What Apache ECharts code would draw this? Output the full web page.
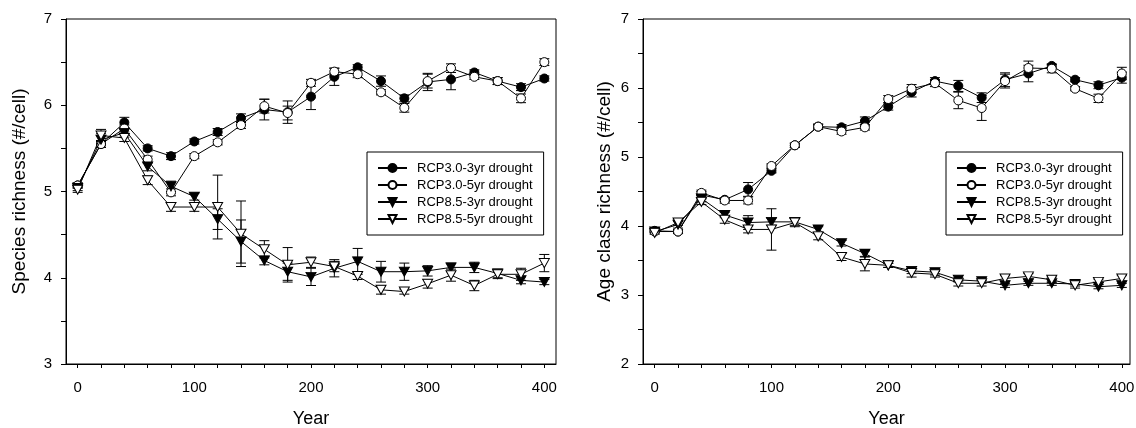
<!DOCTYPE html>
<html>
<head>
<meta charset="utf-8">
<script src="https://cdn.jsdelivr.net/npm/echarts@6/dist/echarts.min.js"></script>
<style>
html,body{margin:0;padding:0;background:#fff;}
#chart{width:1136px;height:428px;}
</style>
</head>
<body>
<div id="chart"></div>
<script>
const years = [0,20,40,60,80,100,120,140,160,180,200,220,240,260,280,300,320,340,360,380,400];
const seriesNames = ['RCP3.0-3yr drought','RCP3.0-5yr drought','RCP8.5-3yr drought','RCP8.5-5yr drought'];
const xTicks = [0,20,40,60,80,100,120,140,160,180,200,220,240,260,280,300,320,340,360,380,400];
const xLabels = [0,100,200,300,400];
const leftYTicks = [3,3.5,4,4.5,5,5.5,6,6.5,7];
const leftYLabels = [3,4,5,6,7];
const rightYTicks = [2,2.5,3,3.5,4,4.5,5,5.5,6,6.5,7];
const rightYLabels = [2,3,4,5,6,7];

// Species richness (#/cell)
const spA = [5.07,5.55,5.80,5.50,5.41,5.58,5.69,5.85,5.95,5.92,6.10,6.33,6.44,6.28,6.08,6.27,6.30,6.38,6.28,6.21,6.31];
const spB = [5.07,5.55,5.73,5.37,4.99,5.41,5.57,5.77,5.99,5.91,6.26,6.39,6.36,6.15,5.97,6.28,6.43,6.33,6.28,6.08,6.50];
const spC = [5.04,5.60,5.68,5.29,5.06,4.94,4.68,4.42,4.20,4.07,4.01,4.11,4.19,4.07,4.07,4.08,4.12,4.12,4.05,3.97,3.95];
const spD = [5.02,5.65,5.62,5.13,4.82,4.82,4.82,4.51,4.33,4.15,4.18,4.13,4.02,3.86,3.84,3.93,4.03,3.91,4.04,4.04,4.17];
const spAerr = [0.03,0.04,0.06,0.03,0.04,0.03,0.04,0.05,0.12,0.13,0.15,0.10,0.03,0.06,0.04,0.10,0.12,0.03,0.04,0.04,0.03];
const spBerr = [0.03,0.04,0.04,0.04,0.04,0.03,0.03,0.04,0.08,0.08,0.04,0.04,0.04,0.03,0.05,0.08,0.05,0.03,0.04,0.05,0.04];
const spCerr = [0.03,0.07,0.05,0.05,0.06,0.04,0.12,0.25,0.05,0.10,0.10,0.10,0.15,0.12,0.10,0.06,0.05,0.06,0.05,0.04,0.03];
const spDerr = [0.03,0.07,0.04,0.05,0.05,0.05,0.37,0.38,0.10,0.20,0.06,0.06,0.04,0.05,0.03,0.05,0.07,0.06,0.05,0.07,0.10];

// Age class richness (#/cell)
const agA = [3.93,3.92,4.45,4.38,4.53,4.80,5.17,5.44,5.43,5.52,5.73,5.94,6.10,6.03,5.86,6.12,6.21,6.32,6.12,6.04,6.15];
const agB = [3.92,3.92,4.48,4.37,4.37,4.87,5.17,5.44,5.37,5.43,5.84,5.99,6.07,5.82,5.71,6.10,6.29,6.28,5.99,5.85,6.21];
const agC = [3.92,4.02,4.40,4.16,4.05,4.06,4.06,3.95,3.75,3.60,3.43,3.35,3.33,3.22,3.20,3.14,3.17,3.17,3.16,3.12,3.14];
const agD = [3.90,4.05,4.35,4.09,3.95,3.95,4.05,3.85,3.55,3.45,3.43,3.32,3.30,3.17,3.17,3.24,3.27,3.22,3.14,3.19,3.24];
const agAerr = [0.02,0.03,0.05,0.03,0.10,0.03,0.03,0.04,0.04,0.06,0.05,0.07,0.05,0.08,0.07,0.10,0.12,0.03,0.03,0.05,0.08];
const agBerr = [0.02,0.03,0.04,0.04,0.05,0.03,0.03,0.03,0.04,0.04,0.05,0.06,0.05,0.12,0.18,0.10,0.10,0.06,0.03,0.06,0.09];
const agCerr = [0.02,0.05,0.05,0.04,0.10,0.05,0.05,0.04,0.04,0.04,0.03,0.04,0.04,0.03,0.03,0.03,0.03,0.03,0.03,0.03,0.03];
const agDerr = [0.02,0.04,0.04,0.05,0.05,0.30,0.06,0.05,0.05,0.10,0.03,0.06,0.04,0.04,0.04,0.04,0.04,0.04,0.04,0.04,0.04];

const FONT = 'Liberation Sans, Arial, sans-serif';
const TRI = 'path://M0,0L10,0L5,9Z';
const markerStyles = [
  {symbol:'circle', symbolSize:9, itemStyle:{color:'#000', borderColor:'#000', borderWidth:1}},
  {symbol:'circle', symbolSize:9, itemStyle:{color:'#fff', borderColor:'#000', borderWidth:1}},
  {symbol:TRI, symbolSize:[10,9], itemStyle:{color:'#000', borderColor:'#000', borderWidth:1}},
  {symbol:TRI, symbolSize:[10,9], itemStyle:{color:'#fff', borderColor:'#000', borderWidth:1}}
];

function pairs(vals){ return years.map((y,i)=>[y, vals[i]]); }
function triples(vals, errs){ return years.map((y,i)=>[y, vals[i], errs[i]]); }

function errRender(params, api){
  const x = api.value(0), y = api.value(1), e = api.value(2);
  const t = api.coord([x, y + e]);
  const b = api.coord([x, y - e]);
  const hw = 5;
  const st = {stroke:'#000', lineWidth:1};
  return {type:'group', children:[
    {type:'line', shape:{x1:t[0], y1:t[1], x2:b[0], y2:b[1]}, style:st},
    {type:'line', shape:{x1:t[0]-hw, y1:t[1], x2:t[0]+hw, y2:t[1]}, style:st},
    {type:'line', shape:{x1:b[0]-hw, y1:b[1], x2:b[0]+hw, y2:b[1]}, style:st}
  ]};
}

function makeSeries(idx, valsList, errList){
  const out = [];
  valsList.forEach((vals, k)=>{
    out.push({
      type:'custom', name:seriesNames[k]+' err', xAxisIndex:idx, yAxisIndex:idx,
      renderItem:errRender, data:triples(vals, errList[k]), z:1, silent:true,
      encode:{x:0, y:1}
    });
  });
  valsList.forEach((vals, k)=>{
    out.push(Object.assign({
      type:'line', name:seriesNames[k], xAxisIndex:idx, yAxisIndex:idx,
      data:pairs(vals), z:3 + k,
      lineStyle:{color:'#000', width:1},
      showAllSymbol:true
    }, markerStyles[k]));
  });
  return out;
}

function xAxis(gridIndex){
  return {
    type:'value', gridIndex, min:-10, max:410,
    name:'Year', nameLocation:'middle', nameGap:46,
    nameTextStyle:{color:'#000', fontSize:18, fontFamily:FONT},
    axisLine:{show:true, onZero:false, lineStyle:{color:'#000', width:1}},
    axisTick:{show:true, length:4, customValues:xTicks, lineStyle:{color:'#000'}},
    axisLabel:{customValues:xLabels, color:'#000', fontSize:15, fontFamily:FONT, margin:16},
    splitLine:{show:false}
  };
}
function yAxis(gridIndex, min, max, ticks, labels, name, gap){
  return {
    type:'value', gridIndex, min, max,
    name, nameLocation:'middle', nameGap:gap,
    nameTextStyle:{color:'#000', fontSize:19, fontFamily:FONT},
    axisLine:{show:true, onZero:false, lineStyle:{color:'#000', width:1}},
    axisTick:{show:true, length:5, customValues:ticks, lineStyle:{color:'#000'}},
    axisLabel:{customValues:labels, color:'#000', fontSize:15, fontFamily:FONT, margin:14},
    splitLine:{show:false}
  };
}
function legend(left){
  return {
    left, top:152, orient:'vertical',
    data:seriesNames,
    borderColor:'#000', borderWidth:1, borderRadius:0,
    padding:[9, 11, 9, 10],
    itemWidth:29, itemHeight:10, itemGap:3,
    textStyle:{color:'#000', fontSize:13, fontFamily:FONT, lineHeight:14, padding:[0,0,0,5]},
    selectedMode:false
  };
}

const option = {
  animation:false,
  backgroundColor:'#fff',
  grid:[
    {left:66, top:19, right:580, bottom:64, show:true, borderColor:'#000', borderWidth:1, backgroundColor:'transparent', containLabel:false, outerBoundsMode:'none'},
    {left:643, top:19, right:6, bottom:64, show:true, borderColor:'#000', borderWidth:1, backgroundColor:'transparent', containLabel:false, outerBoundsMode:'none'}
  ],
  xAxis:[xAxis(0), xAxis(1)],
  yAxis:[
    yAxis(0, 3, 7, leftYTicks, leftYLabels, 'Species richness (#/cell)', 37),
    yAxis(1, 2, 7, rightYTicks, rightYLabels, 'Age class richness (#/cell)', 29)
  ],
  legend:[legend(367), legend(946)],
  series:[].concat(
    makeSeries(0, [spA, spB, spC, spD], [spAerr, spBerr, spCerr, spDerr]),
    makeSeries(1, [agA, agB, agC, agD], [agAerr, agBerr, agCerr, agDerr])
  )
};
// right x-axis ends a little earlier in the reference
option.xAxis[1].max = 407;

const chart = echarts.init(document.getElementById('chart'), null, {renderer:'canvas'});
chart.setOption(option);
</script>
</body>
</html>
